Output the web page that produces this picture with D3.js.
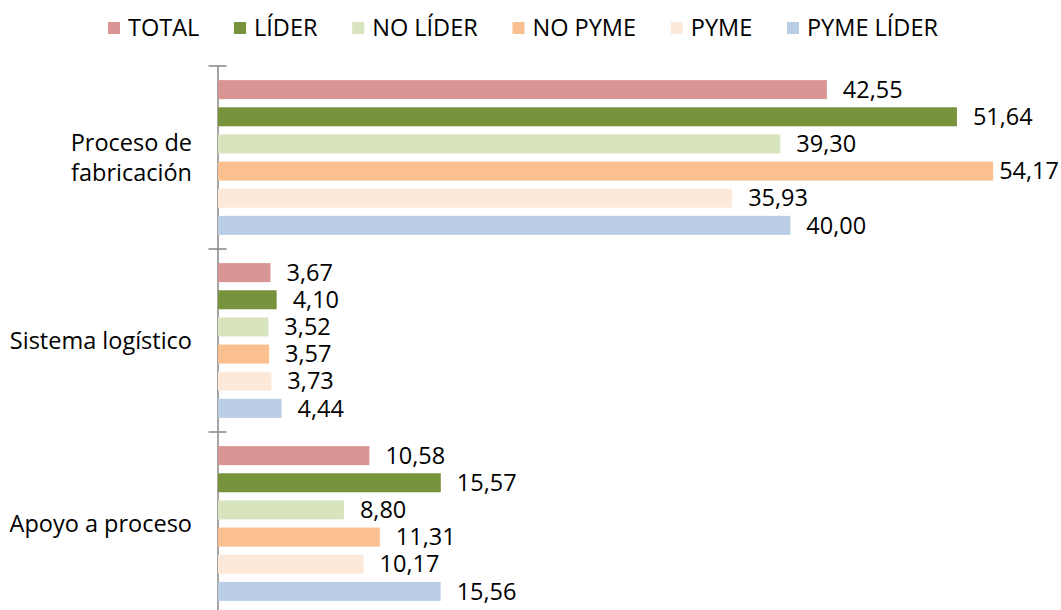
<!DOCTYPE html>
<html>
<head>
<meta charset="utf-8">
<script src="https://cdn.jsdelivr.net/npm/d3@7"></script>
<style>
  body { margin: 0; background: #fff; }
  text { font-family: "Open Sans", sans-serif; fill: #000; }
</style>
</head>
<body>
<div id="chart"></div>
<script>
// chart data
const categories = ["Proceso de fabricación", "Sistema logístico", "Apoyo a proceso"];
const categoryLines = [["Proceso de", "fabricación"], ["Sistema logístico"], ["Apoyo a proceso"]];
const series = ["TOTAL", "LÍDER", "NO LÍDER", "NO PYME", "PYME", "PYME LÍDER"];
const colors = ["#D99594", "#77933C", "#D7E4BD", "#FAC090", "#FDE9D9", "#B9CDE5"];
const totalValues = [42.55, 3.67, 10.58];
const liderValues = [51.64, 4.10, 15.57];
const noLiderValues = [39.30, 3.52, 8.80];
const noPymeValues = [54.17, 3.57, 11.31];
const pymeValues = [35.93, 3.73, 10.17];
const pymeLiderValues = [40.00, 4.44, 15.56];
const seriesValues = [totalValues, liderValues, noLiderValues, noPymeValues, pymeValues, pymeLiderValues];

const width = 1061, height = 610;
const fontSize = 23.5;

const svg = d3.select("#chart")
  .append("svg")
  .attr("width", width)
  .attr("height", height);

// scales
const x = d3.scaleLinear().domain([0, 55]).range([218, 1005]);
const y0 = d3.scaleBand().domain(categories).range([66, 615]).padding(0);
const y1 = d3.scaleBand().domain(series).range([0, y0.bandwidth()])
  .paddingInner(0.3).paddingOuter(0.52);

// axis
const axis = svg.append("g").attr("transform", "translate(217.5,0)")
  .call(d3.axisLeft(y0).tickSize(0).tickFormat(""));
axis.select(".domain").attr("stroke", "#868686").attr("stroke-width", 1.5);
axis.selectAll(".tick").remove();
const tickYs = categories.map(c => y0(c)).concat([y0.range()[1]]);
axis.selectAll("line.cat-tick")
  .data(tickYs)
  .join("line")
  .attr("class", "cat-tick")
  .attr("x1", -9).attr("x2", 9)
  .attr("y1", d => d).attr("y2", d => d)
  .attr("stroke", "#868686").attr("stroke-width", 1.5);

// category labels
categories.forEach((c, i) => {
  const lines = categoryLines[i];
  const cy = y0(c) + y0.bandwidth() / 2;
  const lh = 30;
  svg.append("text")
    .attr("x", 192)
    .attr("text-anchor", "end")
    .style("font-size", fontSize + "px")
    .selectAll("tspan")
    .data(lines)
    .join("tspan")
    .attr("x", 192)
    .attr("y", (d, j) => cy + (j - (lines.length - 1) / 2) * lh)
    .attr("dy", "0.35em")
    .text(d => d);
});

// bars
const rows = [];
categories.forEach((c, ci) => {
  series.forEach((s, si) => {
    rows.push({ cat: c, s: s, color: colors[si], value: seriesValues[si][ci] });
  });
});

svg.selectAll("rect.bar")
  .data(rows)
  .join("rect")
  .attr("class", "bar")
  .attr("x", x(0))
  .attr("y", d => y0(d.cat) + y1(d.s))
  .attr("width", d => x(d.value) - x(0))
  .attr("height", y1.bandwidth())
  .attr("fill", d => d.color);

// value labels
const fmt = v => v.toFixed(2).replace(".", ",");
svg.selectAll("text.val")
  .data(rows)
  .join("text")
  .attr("class", "val")
  .style("font-size", fontSize + "px")
  .attr("y", d => y0(d.cat) + y1(d.s) + y1.bandwidth() / 2)
  .attr("dy", "0.35em")
  .text(d => fmt(d.value))
  .attr("x", function (d) {
    const w = this.getComputedTextLength();
    return Math.min(x(d.value) + 16, width - 2 - w);
  });

// legend, spread between left and right ends
const legend = svg.append("g");
const legStart = 108, legEnd = 938;
const items = series.map((s, i) => {
  const g = legend.append("g");
  g.append("rect")
    .attr("y", 22)
    .attr("width", 12).attr("height", 12)
    .attr("fill", colors[i]);
  const t = g.append("text")
    .attr("x", 20).attr("y", 28)
    .attr("dy", "0.35em")
    .style("font-size", fontSize + "px")
    .text(s);
  return { g: g, w: 20 + t.node().getComputedTextLength() };
});
const used = d3.sum(items, d => d.w);
const gap = (legEnd - legStart - used) / (items.length - 1);
let lx = legStart;
items.forEach(d => {
  d.g.attr("transform", `translate(${lx},0)`);
  lx += d.w + gap;
});
</script>
</body>
</html>
